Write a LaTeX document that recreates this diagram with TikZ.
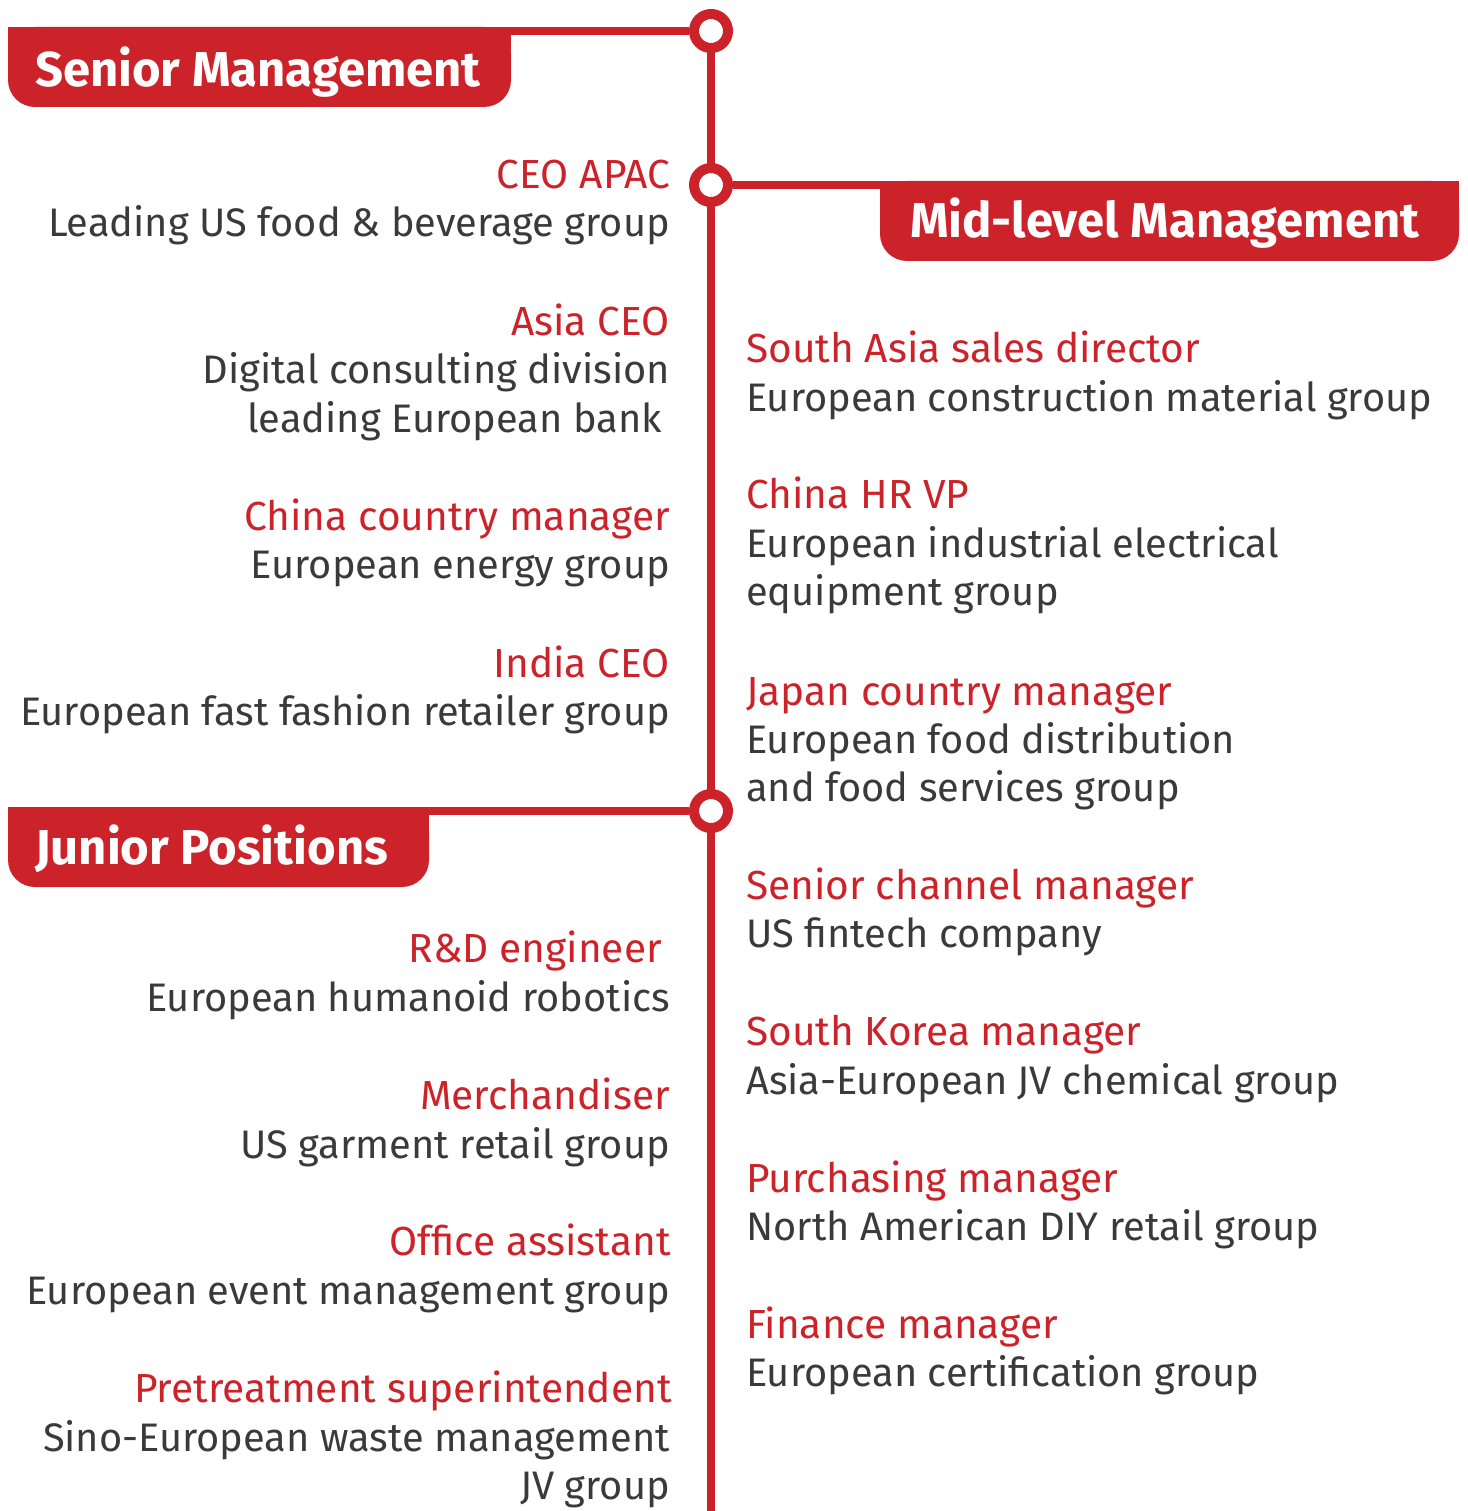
\documentclass[tikz,border=0pt]{standalone}
\usepackage{fontspec}
\setmainfont{Fira Sans}
\definecolor{brand}{HTML}{CC2229}
\definecolor{ink}{HTML}{3A3A3A}
\tikzset{
  role/.style={inner sep=0pt, text=brand, font=\fontsize{40.6}{48}\selectfont},
  firm/.style={inner sep=0pt, text=ink, font=\fontsize{39.8}{48}\selectfont},
  lft/.style={anchor=base east, xshift=2pt},
  rgt/.style={anchor=base west, xshift=-1pt},
  bannertext/.style={anchor=base west, inner sep=0pt, text=white, font=\fontsize{49}{60}\selectfont\bfseries},
  stop/.style={circle, draw=brand, line width=10pt, fill=white, minimum size=34pt, inner sep=0pt},
  rail/.style={draw=brand, line width=8pt},
}
\begin{document}
\begin{tikzpicture}[x=1pt, y=-1pt]
\useasboundingbox (0,0) rectangle (1467,1511);
% rail
\coordinate (railend) at (711,1511);
\draw[rail] (711,31) -- (railend);
% banners
\fill[brand, rounded corners=27pt] (8,27) rectangle (511,107);
\fill[brand] (8,27) rectangle (511,70);
\fill[brand, rounded corners=27pt] (880,181) rectangle (1459,261);
\fill[brand] (880,181) rectangle (1459,225);
\fill[brand, rounded corners=27pt] (8,807) rectangle (429,887);
\fill[brand] (8,807) rectangle (429,850);
\coordinate (sb) at (505,31);
\coordinate (mb) at (886,185);
\coordinate (jb) at (423,811);
\node[stop] (c1) at (711,31) {};
\node[stop] (c2) at (711,185) {};
\node[stop] (c3) at (711,811) {};
\draw[rail] (sb) -- (c1.west);
\draw[rail] (c2.east) -- (mb);
\draw[rail] (jb) -- (c3.west);
\node[bannertext] (senior) at (35,87) {Senior Management};
\node[bannertext] (mid) at (910,238) {Mid-level Management};
\node[bannertext] (junior) at (35,864) {Junior Positions};
% left column
\node[role, lft] (l1a) at (668,189) {CEO APAC};
\node[firm, lft] (l1b) at (668,237) {Leading US food \& beverage group};
\node[role, lft] (l2a) at (668,335) {Asia CEO};
\node[firm, lft] (l2b) at (668,383) {Digital consulting division};
\node[firm, lft] (l2c) at (660,432) {leading European bank};
\node[role, lft] (l3a) at (668,530) {China country manager};
\node[firm, lft] (l3b) at (668,578) {European energy group};
\node[role, lft] (l4a) at (668,677) {India CEO};
\node[firm, lft] (l4b) at (668,725) {European fast fashion retailer group};
\node[role, lft] (l5a) at (660,962) {R\&D engineer};
\node[firm, lft] (l5b) at (668,1011) {European humanoid robotics};
\node[role, lft] (l6a) at (668,1109) {Merchandiser};
\node[firm, lft] (l6b) at (668,1158) {US garment retail group};
\node[role, lft] (l7a) at (669,1255) {Office assistant};
\node[firm, lft] (l7b) at (668,1304) {European event management group};
\node[role, lft] (l8a) at (670,1402) {Pretreatment superintendent};
\node[firm, lft] (l8b) at (668,1451) {Sino-European waste management};
\node[firm, lft] (l8c) at (668,1499) {JV group};
% right column
\node[role, rgt] (r1a) at (747,362) {South Asia sales director};
\node[firm, rgt] (r1b) at (747,411) {European construction material group};
\node[role, rgt] (r2a) at (747,508) {China HR VP};
\node[firm, rgt] (r2b) at (747,557) {European industrial electrical};
\node[firm, rgt] (r2c) at (747,605) {equipment group};
\node[role, rgt] (r3a) at (747,705) {Japan country manager};
\node[firm, rgt] (r3b) at (747,753) {European food distribution};
\node[firm, rgt] (r3c) at (747,801) {and food services group};
\node[role, rgt] (r4a) at (747,899) {Senior channel manager};
\node[firm, rgt] (r4b) at (747,947) {US fintech company};
\node[role, rgt] (r5a) at (747,1045) {South Korea manager};
\node[firm, rgt] (r5b) at (747,1094) {Asia-European JV chemical group};
\node[role, rgt] (r6a) at (747,1192) {Purchasing manager};
\node[firm, rgt] (r6b) at (747,1240) {North American DIY retail group};
\node[role, rgt] (r7a) at (747,1338) {Finance manager};
\node[firm, rgt] (r7b) at (747,1386) {European certification group};
\end{tikzpicture}
\end{document}
